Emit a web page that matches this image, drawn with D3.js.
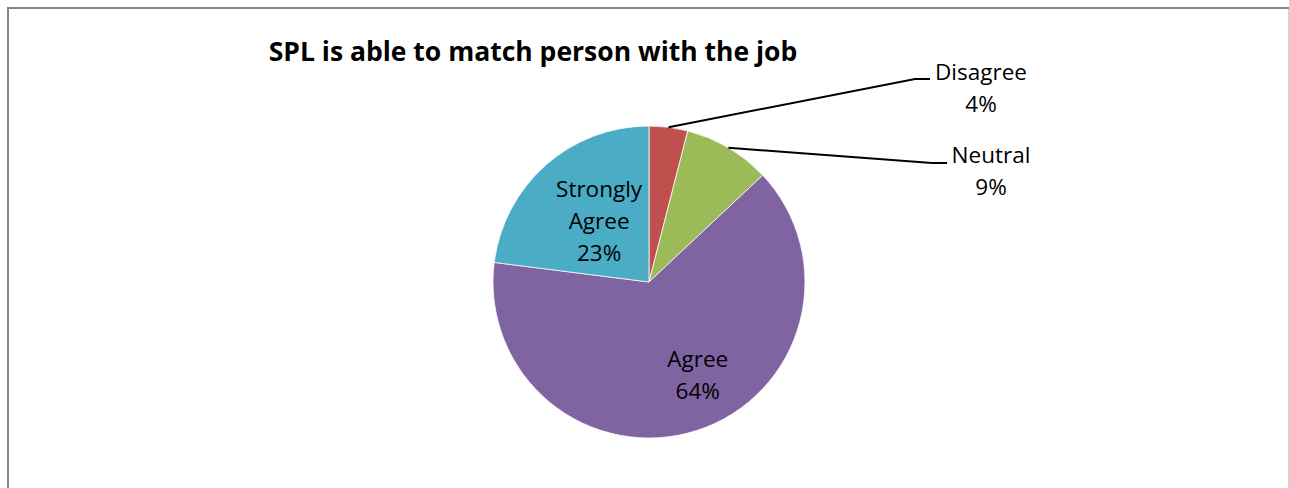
<!DOCTYPE html>
<html>
<head>
<meta charset="utf-8">
<script src="https://cdn.jsdelivr.net/npm/d3@7"></script>
<style>
  body { margin: 0; background: #fff; }
  svg text { font-family: "Open Sans", sans-serif; fill: #000; }
</style>
</head>
<body>
<svg id="chart" width="1289" height="488"></svg>
<script>
var W = 1289, H = 488;
var titleText = 'SPL is able to match person with the job';
var categories = ['Disagree', 'Neutral', 'Agree', 'Strongly Agree'];
var values = [4, 9, 64, 23];
var colours = ['#C0504D', '#9BBB59', '#8064A2', '#4BACC6'];

var cx = 649, cy = 282, r = 156;
var lineH = 32;

var svg = d3.select('#chart');

// chart frame (bottom edge falls outside the picture)
svg.append('rect')
  .attr('x', 8).attr('y', 8)
  .attr('width', 1300).attr('height', 600)
  .style('fill', 'none')
  .style('stroke', '#868686')
  .style('stroke-width', 2);
svg.append('line')
  .attr('x1', 1288.5).attr('x2', 1288.5)
  .attr('y1', 9).attr('y2', H)
  .style('stroke', '#d0d0d0').style('stroke-width', 1);

svg.append('text')
  .attr('x', 533).attr('y', 61)
  .attr('text-anchor', 'middle')
  .style('font-size', '26.5px')
  .style('font-weight', 'bold')
  .text(titleText);

var pie = d3.pie().sort(null).value(d => d.value);
var arc = d3.arc().innerRadius(0).outerRadius(r);
var slices = pie(categories.map((c, i) => ({name: c, value: values[i], colour: colours[i]})));

var g = svg.append('g').attr('transform', 'translate(' + cx + ',' + cy + ')');

g.selectAll('.slice')
  .data(slices)
  .join('path')
  .attr('class', 'slice')
  .attr('d', arc)
  .style('fill', d => d.data.colour)
  .style('stroke', '#fff')
  .style('stroke-width', 0.75);

// label placement: inside for the big slices, leader lines for the small ones
var labelCfg = {
  'Disagree': {outside: true, tx: 981, ty: 80, lx: 930, ly: 79},
  'Neutral': {outside: true, tx: 991, ty: 163, lx: 947, ly: 163},
  'Agree': {outside: false, k: 0.68, dx: 16, dy: -7},
  'Strongly Agree': {outside: false, k: 0.513, dx: 3, dy: 0}
};

var pct = d3.format('.0%');
var total = d3.sum(values);

slices.forEach(function (d) {
  var cfg = labelCfg[d.data.name];
  var lines = d.data.name.split(' ').concat([pct(d.data.value / total)]);
  var x, y;
  if (cfg.outside) {
    var mid = (d.startAngle + d.endAngle) / 2;
    var px = Math.sin(mid) * r, py = -Math.cos(mid) * r;
    g.append('polyline')
      .attr('points', [[px, py], [cfg.lx - 15 - cx, cfg.ly - cy], [cfg.lx - cx, cfg.ly - cy]].map(p => p.join(',')).join(' '))
      .style('fill', 'none')
      .style('stroke', '#000')
      .style('stroke-width', 2);
    x = cfg.tx - cx;
    y = cfg.ty - cy;
  } else {
    var c = d3.arc().innerRadius(r * cfg.k).outerRadius(r * cfg.k).centroid(d);
    x = c[0] + cfg.dx;
    y = c[1] + cfg.dy - (lines.length - 1) * lineH / 2 + 7;
  }
  var t = g.append('text')
    .attr('text-anchor', 'middle')
    .style('font-size', '22.5px');
  lines.forEach(function (s, i) {
    t.append('tspan').attr('x', x).attr('y', y + i * lineH).text(s);
  });
});
</script>
</body>
</html>
